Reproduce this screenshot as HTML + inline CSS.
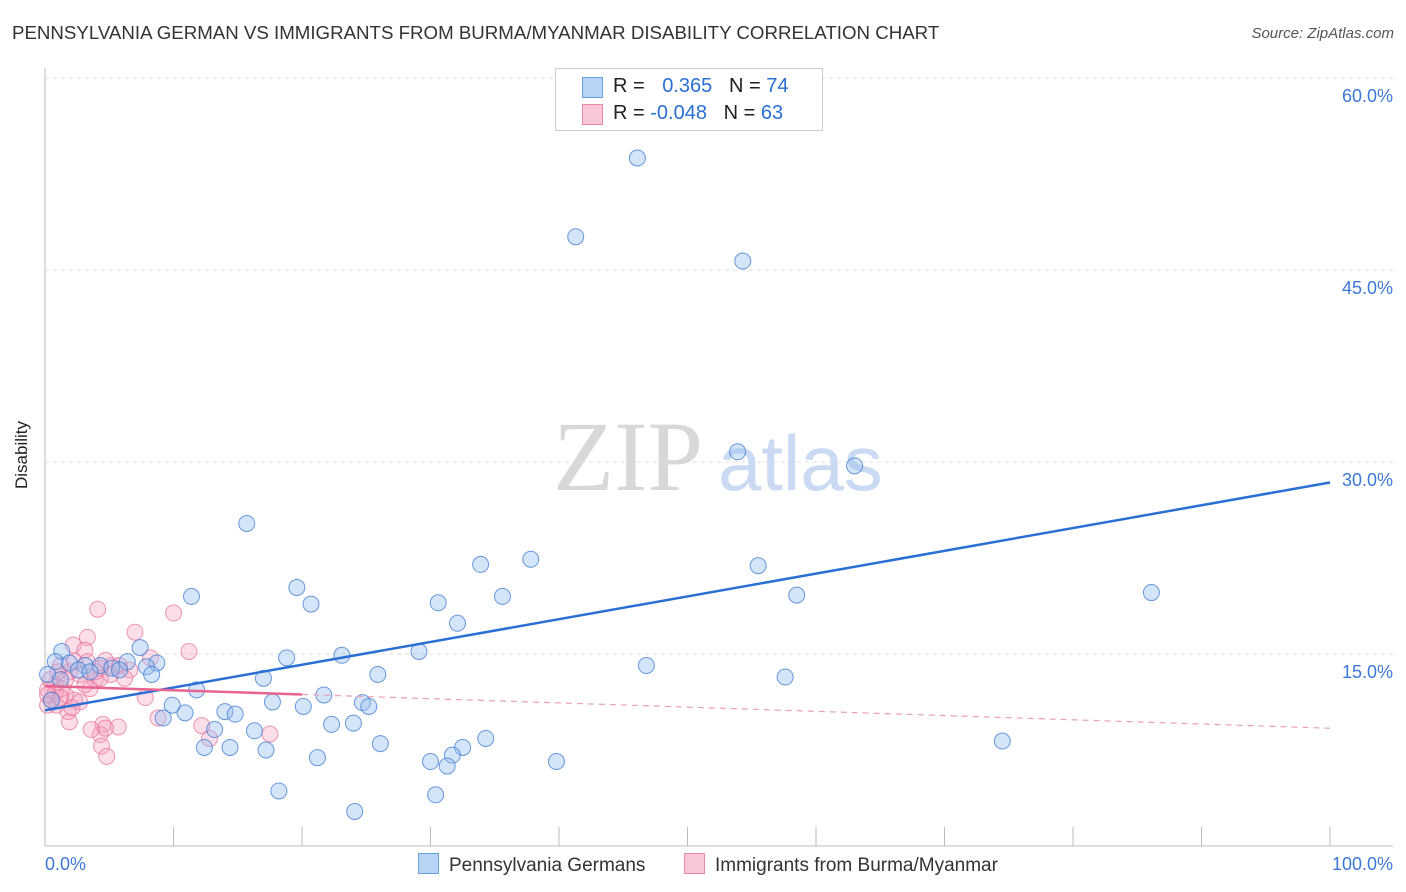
<!DOCTYPE html>
<html><head><meta charset="utf-8"><style>
body{margin:0;background:#fff;font-family:"Liberation Sans",sans-serif;}
#wrap{position:relative;width:1406px;height:892px;overflow:hidden;}
.t{position:absolute;white-space:nowrap;}
</style></head><body>
<div id="wrap">
<div class="t" style="left:12px;top:22px;font-size:18.7px;color:#333;">PENNSYLVANIA GERMAN VS IMMIGRANTS FROM BURMA/MYANMAR DISABILITY CORRELATION CHART</div>
<div class="t" style="right:12px;top:25px;font-size:15px;color:#555;font-style:italic;">Source: ZipAtlas.com</div>
<div class="t" style="left:-12px;top:445px;font-size:17px;color:#222;transform:rotate(-90deg);">Disability</div>
<svg id="plot" width="1406" height="892" style="position:absolute;left:0;top:0"></svg>
<div style="position:absolute;left:555px;top:68px;width:266px;height:61px;border:1px solid #ccc;background:#fff;font-size:20px;">
 <div style="position:absolute;left:26px;top:8px;width:19px;height:19px;background:#b8d4f5;border:1px solid #6a9fe0;"></div>
 <div class="t" style="left:57px;top:6px;color:#222;">R = <span style="color:#2a6fd4;margin-left:12px">0.365</span> &nbsp; N = <span style="color:#2a6fd4">74</span></div>
 <div style="position:absolute;left:26px;top:35px;width:19px;height:19px;background:#f9c7d6;border:1px solid #e88aa8;"></div>
 <div class="t" style="left:57px;top:33px;color:#222;">R = <span style="color:#2a6fd4">-0.048</span> &nbsp; N = <span style="color:#2a6fd4">63</span></div>
</div>
<div style="position:absolute;left:418px;top:853px;font-size:19px;color:#333;">
 <span style="display:inline-block;width:19px;height:19px;background:#b8d4f5;border:1px solid #6a9fe0;vertical-align:-3px;margin-right:10px;"></span>Pennsylvania Germans</div>
<div style="position:absolute;left:684px;top:853px;font-size:19px;color:#333;">
 <span style="display:inline-block;width:19px;height:19px;background:#f9c7d6;border:1px solid #e88aa8;vertical-align:-3px;margin-right:10px;"></span>Immigrants from Burma/Myanmar</div>
</div>
<script>
const yTicks=[15,30,45,60];
const yTickLabels=["15.0%","30.0%","45.0%","60.0%"];
const xLabels=["0.0%","100.0%"];
const blueX=[46.1,41.3,54.3,53.9,63.0,15.7,37.8,33.9,55.5,86.1,19.6,35.6,58.5,11.4,20.7,30.6,32.1,7.4,29.1,23.1,18.8,1.3,0.8,1.9,3.1,4.3,6.4,8.7,7.9,5.2,5.8,46.8,8.3,25.9,17.0,57.6,11.8,21.7,9.9,10.9,17.7,20.1,24.7,25.2,14.0,14.8,9.2,24.0,22.3,13.2,16.3,34.3,26.1,12.4,14.4,17.2,32.5,31.7,21.2,30.0,31.3,39.8,74.5,18.2,30.4,24.1,0.2,0.5,1.2,2.6,3.5];
const blueY=[53.75,47.6,45.7,30.8,29.7,25.2,22.4,22.0,21.9,19.8,20.2,19.5,19.6,19.5,18.9,19.0,17.4,15.5,15.2,14.9,14.7,15.2,14.4,14.3,14.1,14.1,14.4,14.3,14.0,13.9,13.75,14.1,13.4,13.4,13.1,13.2,12.2,11.8,11.0,10.4,11.25,10.9,11.2,10.9,10.5,10.3,10.0,9.6,9.5,9.1,9.0,8.4,8.0,7.7,7.7,7.5,7.7,7.1,6.9,6.6,6.25,6.6,8.2,4.3,4.0,2.7,13.4,11.4,13.0,13.75,13.6];
const pinkX=[4.1,10.0,3.3,7.0,2.2,11.2,3.1,8.2,5.2,1.2,1.9,2.7,3.9,0.8,0.2,0.5,1.6,2.3,0.9,1.8,2.7,7.8,1.9,8.8,12.2,5.8,4.3,6.6,3.5,1.6,0.4,0.8,1.3,3.1,4.3,5.1,0.2,2.1,4.5,5.7,4.3,4.7,3.6,12.8,4.4,17.5,4.8,3.9,6.2,1.0,2.3,3.3,4.7,0.2,1.2];
const pinkY=[18.5,18.2,16.3,16.7,15.7,15.2,15.3,14.7,14.1,14.1,13.6,13.4,13.0,12.6,12.2,11.4,11.8,11.4,11.0,10.5,11.25,11.6,9.7,10.0,9.4,14.1,13.9,13.75,12.3,13.0,13.0,12.0,12.3,12.6,13.1,13.4,11.0,10.8,9.5,9.3,8.7,9.2,9.1,8.4,7.8,8.75,7.0,13.6,13.1,13.6,14.4,14.4,14.5,11.8,11.6];
const blueTrend=[10.6,28.4];
const pinkTrend=[12.5,9.2];
const pinkSolidEnd=20;

const X0=45,X1=1330,Y0=846,PX15=192;
const sx=v=>X0+(X1-X0)*v/100;
const sy=v=>Y0-PX15*v/15;
const NS="http://www.w3.org/2000/svg";
const svg=document.getElementById('plot');
function mk(tag,attrs){const e=document.createElementNS(NS,tag);for(const k in attrs)e.setAttribute(k,attrs[k]);svg.appendChild(e);return e;}
yTicks.forEach((t,i)=>{
 const g=mk('line',{x1:X0,x2:1393,y1:sy(t),y2:sy(t),stroke:'#ddd','stroke-dasharray':'4,4'});
 
 
 const l=mk('text',{x:1393,y:sy(t)+24,'text-anchor':'end','font-size':18,fill:'#3d78d8','font-family':'Liberation Sans, sans-serif'});
 l.textContent=yTickLabels[i];
 
 
});
const ax=mk('line',{x1:X0,x2:X0,y1:68,y2:Y0,stroke:'#bbb'});


const bx=mk('line',{x1:X0,x2:1393,y1:Y0,y2:Y0,stroke:'#bbb'});


for(let i=0;i<=10;i++){const tk=mk('line',{x1:sx(i*10),x2:sx(i*10),y1:827,y2:Y0,stroke:'#bbb'});
 
 }
xLabels.forEach((s,i)=>{const l=mk('text',{x:i?1393:45,y:870,'text-anchor':i?'end':'start','font-size':18,fill:'#3d78d8','font-family':'Liberation Sans, sans-serif'});l.textContent=s;
 
 });
const w=mk('text',{x:553,y:490,'font-size':100,fill:'#d8d8d8','font-family':'Liberation Serif, serif'});w.textContent='ZIP';


const w2=mk('text',{x:718,y:490,'font-size':78,fill:'#c9daf2','font-family':'Liberation Sans, sans-serif'});w2.textContent='atlas';


pinkX.forEach((x,i)=>{const c=mk('circle',{cx:sx(x),cy:sy(pinkY[i]),r:8,fill:'rgba(245,160,190,0.35)',stroke:'rgba(230,110,150,0.7)','stroke-width':1});
 
 });
blueX.forEach((x,i)=>{const c=mk('circle',{cx:sx(x),cy:sy(blueY[i]),r:8,fill:'rgba(150,190,240,0.4)',stroke:'rgba(60,120,210,0.75)','stroke-width':1});
 
 });
const bt=mk('line',{x1:sx(0),y1:sy(blueTrend[0]),x2:sx(100),y2:sy(blueTrend[1]),stroke:'#2a6fd4','stroke-width':2.5});


const pm=pinkTrend[0]+(pinkTrend[1]-pinkTrend[0])*pinkSolidEnd/100;
const pt=mk('line',{x1:sx(0),y1:sy(pinkTrend[0]),x2:sx(pinkSolidEnd),y2:sy(pm),stroke:'#e8648f','stroke-width':2.5});


const pd=mk('line',{x1:sx(pinkSolidEnd),y1:sy(pm),x2:sx(100),y2:sy(pinkTrend[1]),stroke:'#e8a0b8','stroke-width':1.2,'stroke-dasharray':'6,5'});


</script>
</body></html>
